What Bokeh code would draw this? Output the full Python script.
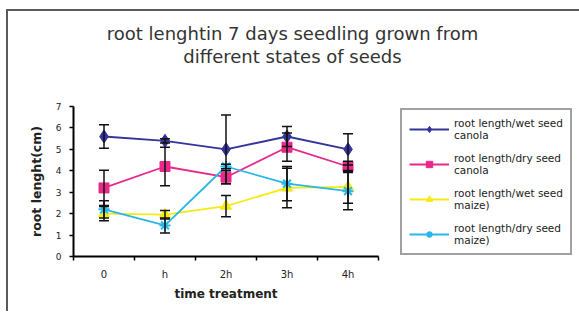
from bokeh.plotting import figure
from bokeh.models import (ColumnDataSource, Whisker, TeeHead, Legend, LegendItem,
                          FixedTicker, LinearAxis, Range1d)
from bokeh.embed import file_html
from bokeh.resources import INLINE

categories = ["0", "h", "2h", "3h", "4h"]
wet_canola = [5.6, 5.4, 5.0, 5.6, 5.0]
wet_canola_err = [0.55, 0.1, 1.6, 0.47, 0.73]
dry_canola = [3.2, 4.2, 3.7, 5.1, 4.2]
dry_canola_err = [0.82, 0.9, 0.3, 0.66, 0.24]
wet_maize = [2.0, 1.95, 2.35, 3.2, 3.25]
wet_maize_err = [0.33, 0.2, 0.5, 0.92, 0.76]
dry_maize = [2.2, 1.45, 4.2, 3.4, 3.05]
dry_maize_err = [0.4, 0.35, 0.1, 0.8, 0.87]
y_ticks = [0, 1, 2, 3, 4, 5, 6, 7]
title_lines = ["root lenghtin 7 days seedling grown from", "different states of seeds"]

series = [
    ("root length/wet seed\ncanola", wet_canola, wet_canola_err, "#34349a", "diamond", 13),
    ("root length/dry seed\ncanola", dry_canola, dry_canola_err, "#e8288a", "square", 10),
    ("root length/wet seed\nmaize)", wet_maize, wet_maize_err, "#f5ea14", "triangle", 11),
    ("root length/dry seed\nmaize)", dry_maize, dry_maize_err, "#29b6e8", "asterisk", 11),
]

xpos = [i + 0.5 for i in range(len(categories))]

FRAME_W = 305
p = figure(frame_width=FRAME_W, frame_height=150, output_backend="svg",
           toolbar_location=None, title_location=None,
           x_range=Range1d(0, len(categories)), y_range=Range1d(0, 7),
           min_border_left=65, min_border_right=2, min_border_top=95,
           min_border_bottom=55)
p.styles = {"margin-left": "6px", "margin-top": "9px",
            "border-left": "2px solid #5a5a5a", "border-top": "2px solid #5a5a5a"}
p.outline_line_color = None
p.grid.grid_line_color = None
p.background_fill_color = "white"
p.border_fill_color = "white"

xa = p.below[0]
ya = p.left[0]

# title lines as labels of hidden axes above the frame (centred over the whole chart)
p.extra_x_ranges = {"title": Range1d(0, FRAME_W)}
title_pos = 219
for txt, standoff in ((title_lines[1], 40), (title_lines[0], -1)):
    ax = LinearAxis(x_range_name="title", ticker=FixedTicker(ticks=[title_pos]),
                    major_label_overrides={title_pos: txt},
                    axis_line_color=None, major_tick_line_color=None,
                    minor_tick_line_color=None, major_tick_out=0, major_tick_in=0,
                    major_label_standoff=standoff,
                    major_label_text_font="DejaVu Sans",
                    major_label_text_font_size="18px",
                    major_label_text_color="#333333")
    p.add_layout(ax, "above")

# axes
xa.ticker = FixedTicker(ticks=xpos, minor_ticks=list(range(len(categories) + 1)))
xa.major_label_overrides = {x: c for x, c in zip(xpos, categories)}
xa.major_tick_line_color = None
xa.minor_tick_line_color = "black"
xa.minor_tick_out = 4
xa.minor_tick_in = 0
xa.minor_tick_line_width = 1.5
xa.axis_label = "time treatment"
ya.ticker = FixedTicker(ticks=y_ticks)
ya.axis_label = "root lenght(cm)"
ya.minor_tick_line_color = None
ya.major_tick_out = 4
ya.major_tick_in = 0
ya.major_tick_line_width = 1.5
for ax in (xa, ya):
    ax.axis_line_color = "black"
    ax.axis_line_width = 2
    ax.major_label_text_font = "DejaVu Sans"
    ax.major_label_text_color = "#222222"
    ax.axis_label_text_font = "DejaVu Sans"
    ax.axis_label_text_font_style = "bold"
    ax.axis_label_text_color = "#222222"
xa.axis_label_text_font_size = "12px"
ya.axis_label_text_font_size = "12.5px"
xa.major_label_text_font_size = "10px"
ya.major_label_text_font_size = "9px"
xa.major_label_standoff = 6
ya.major_label_standoff = 8
xa.axis_label_standoff = 4
ya.axis_label_standoff = 9

for label, vals, errs, color, marker, size in series:
    src = ColumnDataSource(dict(x=xpos, y=vals,
                                lo=[v - e for v, e in zip(vals, errs)],
                                hi=[v + e for v, e in zip(vals, errs)]))
    w = Whisker(source=src, base="x", upper="hi", lower="lo",
                line_color="#111111", line_width=1.5, level="glyph",
                upper_head=TeeHead(size=10, line_color="#111111", line_width=1.5),
                lower_head=TeeHead(size=10, line_color="#111111", line_width=1.5))
    p.add_layout(w)

items = []
for label, vals, errs, color, marker, size in series:
    src = ColumnDataSource(dict(x=xpos, y=vals))
    ln = p.line("x", "y", source=src, line_color=color, line_width=1.8)
    mk = p.scatter("x", "y", source=src, marker=marker, size=size,
                   fill_color=color, line_color=color,
                   line_width=2 if marker == "asterisk" else 1)
    items.append(LegendItem(label=label, renderers=[ln, mk]))

legend = Legend(items=items, location=(22, 1), glyph_width=40, glyph_height=16,
                label_standoff=5, padding=7, spacing=11, margin=0,
                label_text_font="DejaVu Sans", label_text_font_size="10.5px",
                label_text_color="#222222",
                border_line_color="#444444", border_line_width=2,
                background_fill_color="white", background_fill_alpha=1)
p.add_layout(legend, "right")

open("out.html", "w").write(file_html(p, INLINE))
